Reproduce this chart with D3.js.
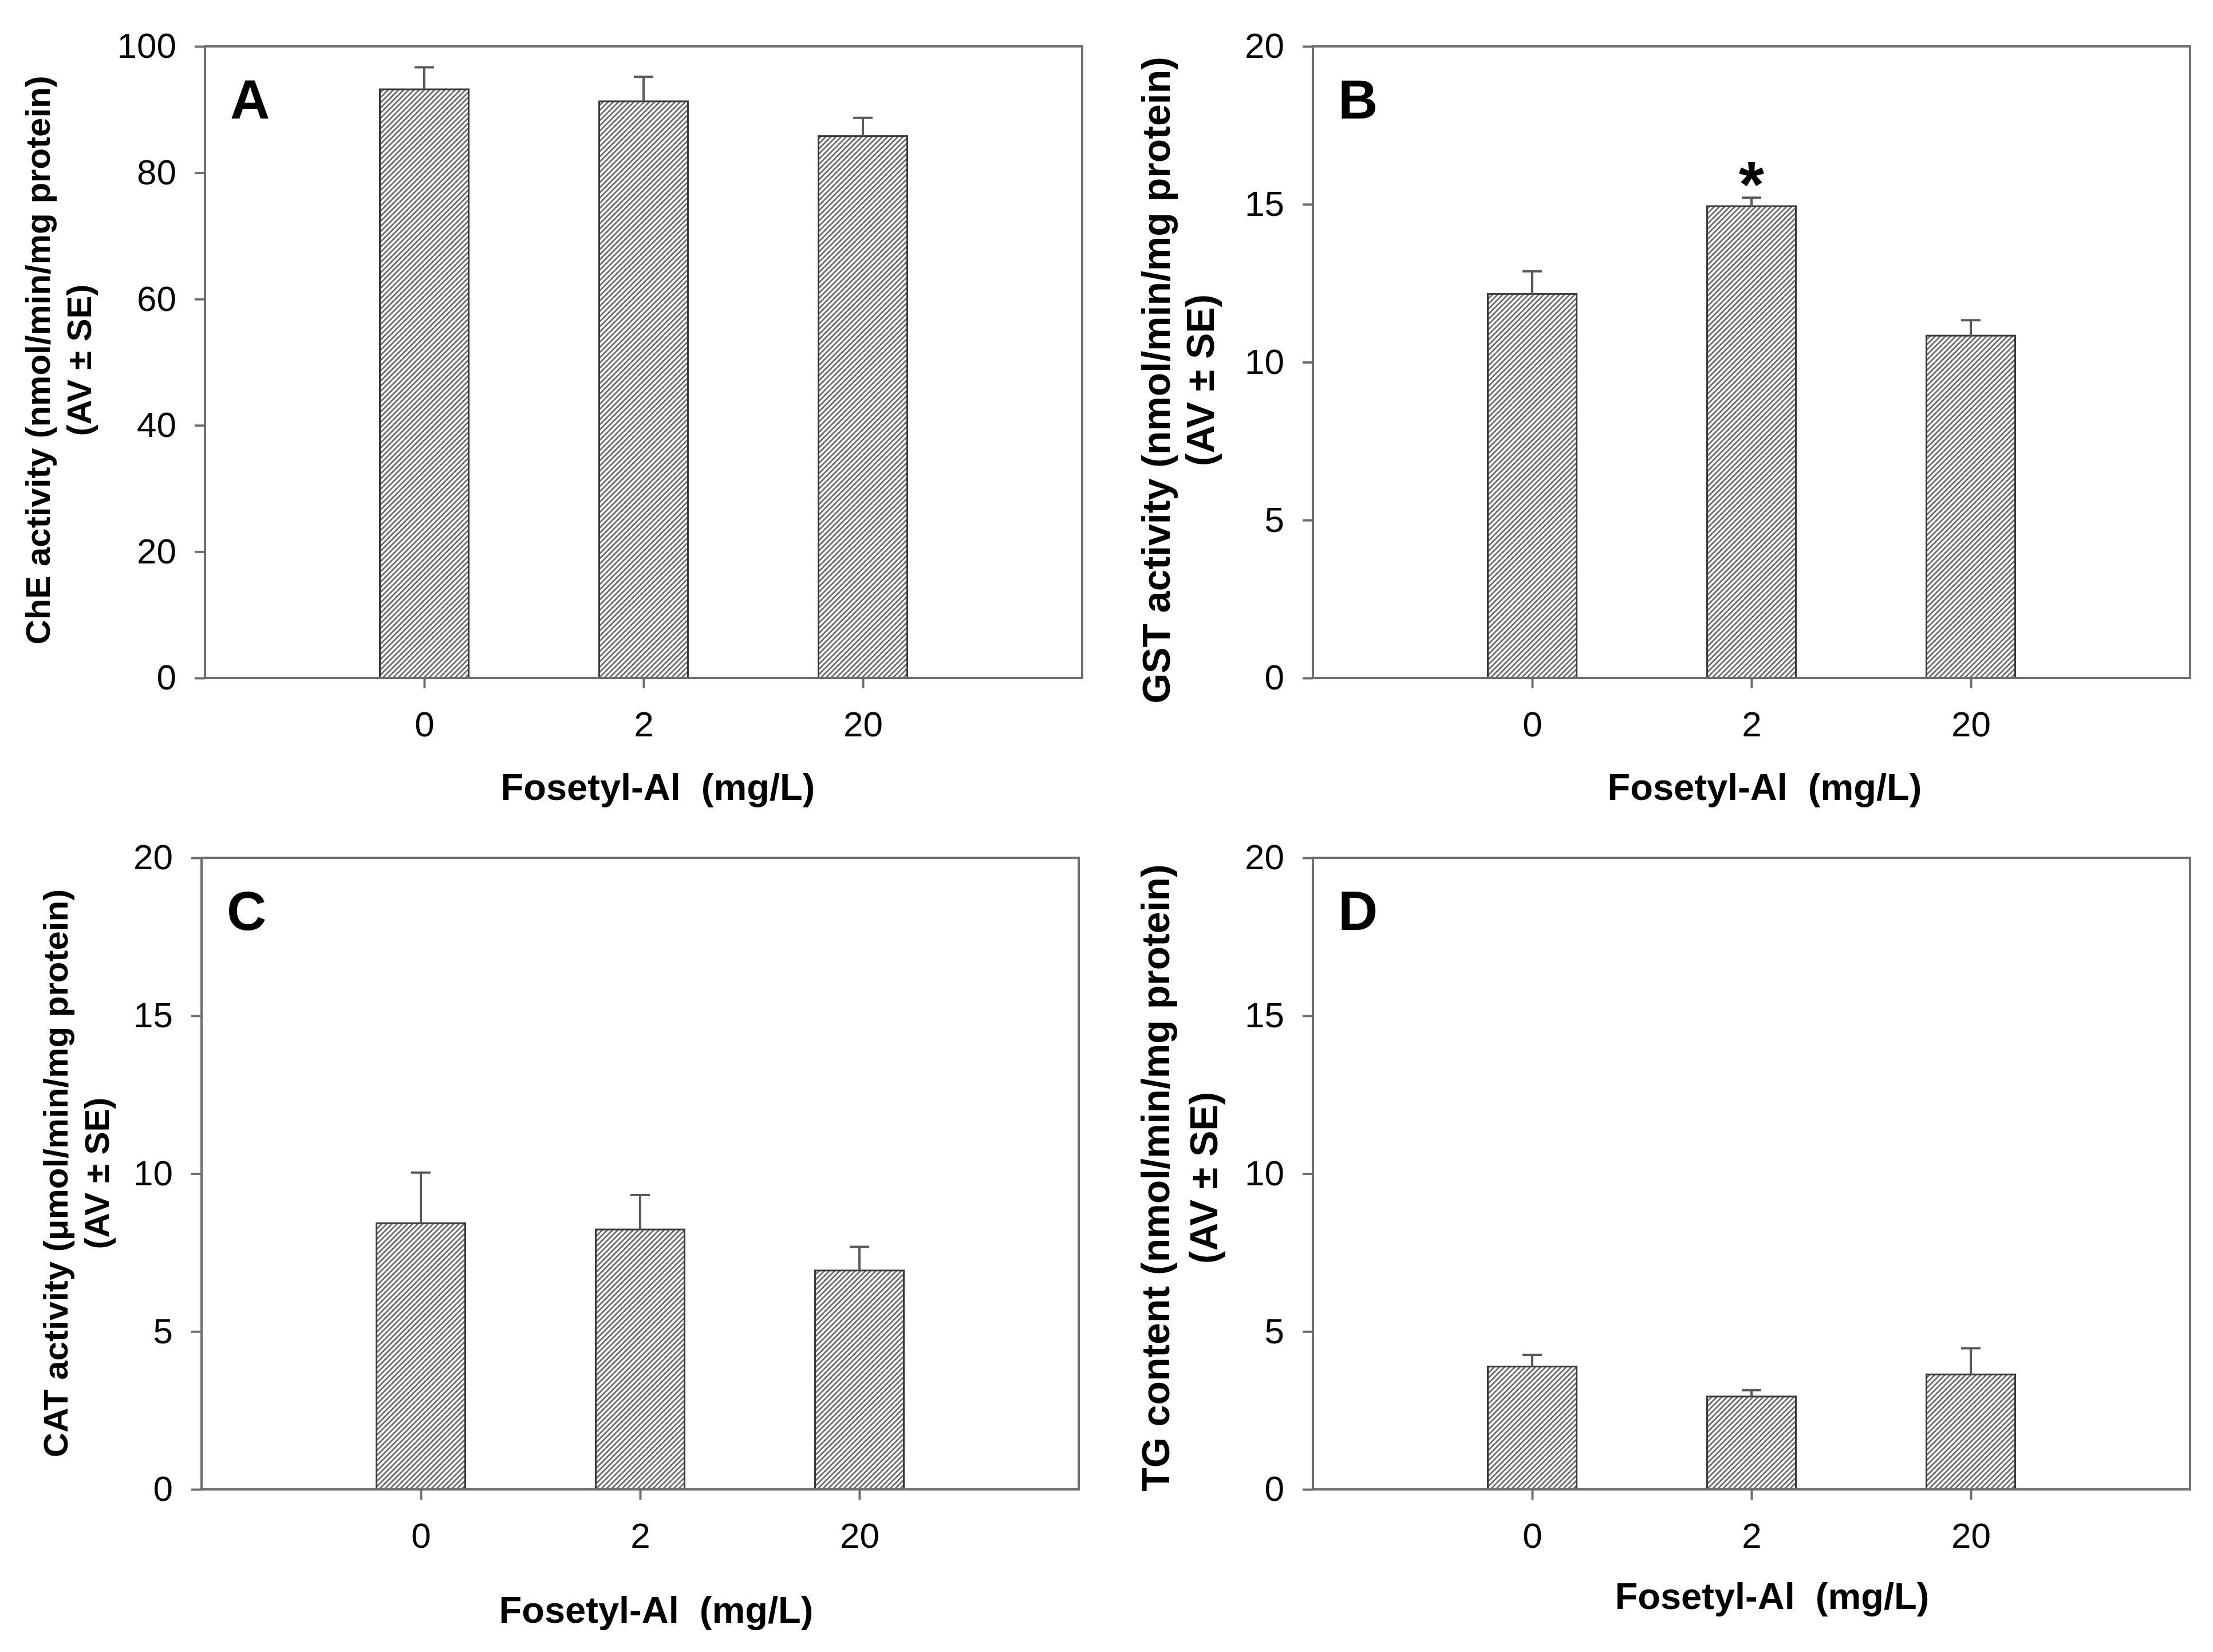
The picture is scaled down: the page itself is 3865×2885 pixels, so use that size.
<!DOCTYPE html>
<html>
<head>
<meta charset="utf-8">
<script src="https://cdn.jsdelivr.net/npm/d3@7"></script>
<style>
  body { margin: 0; background: #fff; }
  text { font-family: "Liberation Sans", Arial, sans-serif; }
</style>
</head>
<body>
<script>

// doses on the x axis
const doses = ["0", "2", "20"];

// A - ChE activity
const cheMean = [93.2, 91.3, 85.8];
const cheSE = [3.5, 3.9, 2.9];

// B - GST activity
const gstMean = [12.16, 14.94, 10.84];
const gstSE = [0.72, 0.27, 0.49];
const gstStars = ["", "*", ""];

// C - CAT activity
const catMean = [8.43, 8.23, 6.93];
const catSE = [1.60, 1.09, 0.75];

// D - TG content
const tgMean = [3.89, 2.94, 3.64];
const tgSE = [0.37, 0.20, 0.83];

const ticksA = [0, 20, 40, 60, 80, 100];
const ticksBCD = [0, 5, 10, 15, 20];

const width = 3865, height = 2885;
const lineColor = "#6e6e6e";

const svg = d3.select("body").append("svg")
    .attr("width", width)
    .attr("height", height);

// diagonal hatch for the bars
const defs = svg.append("defs");
defs.append("pattern")
    .attr("id", "hatch")
    .attr("patternUnits", "userSpaceOnUse")
    .attr("width", 9)
    .attr("height", 9)
    .append("path")
    .attr("d", "M-2,2 l4,-4 M0,9 l9,-9 M7,11 l4,-4")
    .attr("stroke", "#6a6a6a")
    .attr("stroke-width", 2.7);

const panels = [
    { letter: "A", mean: cheMean, se: cheSE, max: 100, ticks: ticksA, stars: null,
      x: 358, y: 81, title1: "ChE activity (nmol/min/mg protein)", title2: "(AV \u00b1 SE)",
      tSize: 60, t1: 87, t2: 159, tMid: 629, xTitleX: 1149, xTitleY: 1397 },
    { letter: "B", mean: gstMean, se: gstSE, max: 20, ticks: ticksBCD, stars: gstStars,
      x: 2293, y: 81, title1: "GST activity (nmol/min/mg protein)", title2: "(AV \u00b1 SE)",
      tSize: 68, t1: 2043, t2: 2120, tMid: 664, xTitleX: 3082, xTitleY: 1397 },
    { letter: "C", mean: catMean, se: catSE, max: 20, ticks: ticksBCD, stars: null,
      x: 352, y: 1498, title1: "CAT activity (\u03bcmol/min/mg protein)", title2: "(AV \u00b1 SE)",
      tSize: 60, t1: 118, t2: 190, tMid: 2049, xTitleX: 1146, xTitleY: 2834 },
    { letter: "D", mean: tgMean, se: tgSE, max: 20, ticks: ticksBCD, stars: null,
      x: 2293, y: 1498, title1: "TG content (nmol/min/mg protein)", title2: "(AV \u00b1 SE)",
      tSize: 68, t1: 2042, t2: 2126, tMid: 2057, xTitleX: 3095, xTitleY: 2810 }
];

const pw = 1532, ph = 1103, barW = 155;

panels.forEach(p => drawPanel(p));

function drawPanel(p) {
    const g = svg.append("g").attr("transform", `translate(${p.x},${p.y})`);

    const x = d3.scaleLinear().domain([0, 4]).range([0, pw]);
    const y = d3.scaleLinear().domain([0, p.max]).range([ph, 0]);

    const rows = doses.map((d, i) => ({ dose: d, pos: i + 1, mean: p.mean[i], se: p.se[i],
        star: p.stars ? p.stars[i] : "" }));

    // bars
    g.selectAll(".bar")
        .data(rows)
        .enter().append("rect")
        .attr("x", d => x(d.pos) - barW / 2)
        .attr("y", d => y(d.mean))
        .attr("width", barW)
        .attr("height", d => ph - y(d.mean))
        .attr("fill", "url(#hatch)")
        .attr("stroke", "#3a3a3a")
        .attr("stroke-width", 3);

    // error bars (upper only)
    g.selectAll(".err")
        .data(rows)
        .enter().append("path")
        .attr("d", d => `M${x(d.pos)},${y(d.mean)}V${y(d.mean + d.se)}` +
            `M${x(d.pos) - 17},${y(d.mean + d.se)}h34`)
        .attr("fill", "none")
        .attr("stroke", "#5a5a5a")
        .attr("stroke-width", 4);

    g.selectAll(".star")
        .data(rows.filter(d => d.star))
        .enter().append("text")
        .attr("x", d => x(d.pos))
        .attr("y", d => y(d.mean + d.se) + 16)
        .attr("text-anchor", "middle")
        .style("font-size", "114px")
        .style("font-weight", "bold")
        .text(d => d.star);

    // frame
    g.append("rect")
        .attr("width", pw)
        .attr("height", ph)
        .attr("fill", "none")
        .attr("stroke", lineColor)
        .attr("stroke-width", 4);

    const yAxis = g.append("g")
        .call(d3.axisLeft(y).tickValues(p.ticks).tickSize(18).tickSizeOuter(0).tickPadding(32));
    const xAxis = g.append("g")
        .attr("transform", `translate(0,${ph})`)
        .call(d3.axisBottom(x).tickValues([1, 2, 3]).tickFormat((d, i) => doses[i])
            .tickSize(18).tickSizeOuter(0).tickPadding(40));

    [yAxis, xAxis].forEach(a => {
        a.select(".domain").remove();
        a.selectAll("line").attr("stroke", lineColor).attr("stroke-width", 4);
        a.selectAll("text")
            .attr("fill", "#000")
            .style("font-size", "62px")
            .style("font-family", "'Liberation Sans', Arial, sans-serif");
    });

    g.append("text")
        .attr("x", 44)
        .attr("y", 126)
        .style("font-size", "96px")
        .style("font-weight", "bold")
        .text(p.letter);

    // x axis title
    svg.append("text")
        .attr("x", p.xTitleX)
        .attr("y", p.xTitleY)
        .attr("text-anchor", "middle")
        .style("font-size", "65px")
        .style("font-weight", "bold")
        .style("white-space", "pre")
        .text("Fosetyl-Al  (mg/L)");

    // y axis title, two lines
    [[p.title1, p.t1], [p.title2, p.t2]].forEach(([t, bx]) => {
        svg.append("text")
            .attr("transform", `translate(${bx},${p.tMid}) rotate(-90)`)
            .attr("text-anchor", "middle")
            .style("font-size", p.tSize + "px")
            .style("font-weight", "bold")
            .text(t);
    });
}
</script>
</body>
</html>
